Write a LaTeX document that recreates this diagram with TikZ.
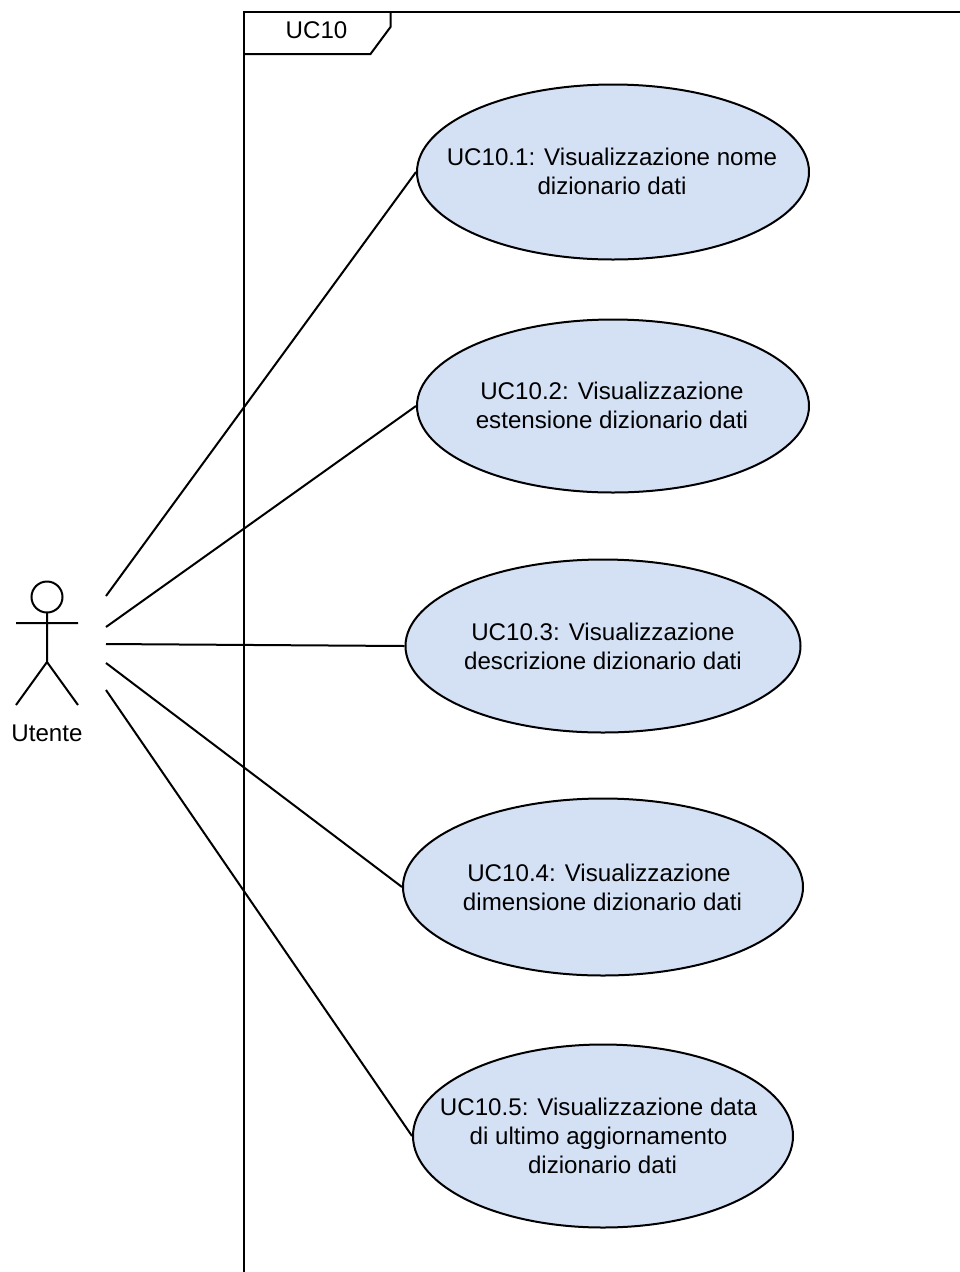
\documentclass[tikz,border=0pt]{standalone}
\usepackage{fontspec}
\setmainfont{Liberation Sans}
\usetikzlibrary{shapes.geometric}
\definecolor{ucfill}{HTML}{D4E1F5}
\tikzset{
 x=0.75pt,y=-0.75pt,
 usecase/.style={ellipse,draw=black,fill=ucfill,line width=1.5pt,inner sep=0pt},
 link/.style={draw=black,line width=1.5pt},
 lab/.style={font=\fontsize{18.1}{22}\selectfont,inner sep=0pt,align=center}
}
\begin{document}
\begin{tikzpicture}
\useasboundingbox (0,0) rectangle (960,1272);
\draw[link] (960,12) -- (244,12) -- (244,1272);
\draw[link] (244,54) -- (370.5,54) -- (390.5,27) -- (390.5,12);
\node[lab] (frame) at (316.5,30.5) {UC10};
\coordinate (a1) at (106,596);
\coordinate (a2) at (106,627);
\coordinate (a3) at (106,644);
\coordinate (a4) at (106,663);
\coordinate (a5) at (106,690);
\node[usecase,minimum width=294pt,minimum height=131.25pt] (u1) at (613,172) {};
\node[usecase,minimum width=294pt,minimum height=129.75pt] (u2) at (613,406) {};
\node[usecase,minimum width=296.25pt,minimum height=129.75pt] (u3) at (603,646) {};
\node[usecase,minimum width=300pt,minimum height=132.75pt] (u4) at (603,887) {};
\node[usecase,minimum width=285pt,minimum height=137.25pt] (u5) at (603,1136) {};
\node[lab] (t1) at (612,171.5) {UC10.1: Visualizzazione nome\\dizionario dati};
\node[lab] (t2) at (612,405.5) {UC10.2: Visualizzazione\\estensione dizionario dati};
\node[lab] (t3) at (603,646.5) {UC10.3: Visualizzazione\\descrizione dizionario dati};
\node[lab] (t4) at (602.5,887.5) {UC10.4: Visualizzazione\hspace*{5.25pt}\\dimensione dizionario dati};
\node[lab] (t5) at (598.5,1136) {UC10.5: Visualizzazione data\\di ultimo aggiornamento\\\hspace*{6pt}dizionario dati};
\draw[link] (a1) -- (u1.west);
\draw[link] (a2) -- (u2.west);
\draw[link] (a3) -- (u3.west);
\draw[link] (a4) -- (u4.west);
\draw[link] (a5) -- (u5.west);
\draw[link] (47,597) circle (15.5);
\draw[link] (47,612.5) -- (47,662) (16,623) -- (78,623) (16,705) -- (47,662) -- (78,705);
\node[lab] (actor) at (47,733) {Utente};
\end{tikzpicture}
\end{document}
